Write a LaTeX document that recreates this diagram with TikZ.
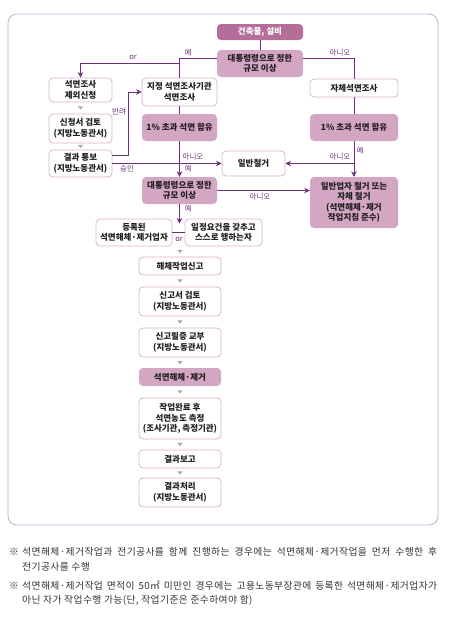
\documentclass[tikz,border=0pt]{standalone}
\usepackage{fontspec}
\newfontfamily\kr{Noto Sans CJK KR}
\newfontfamily\krn[LetterSpace=4]{Noto Sans CJK KR}
\usetikzlibrary{arrows.meta,calc}
\definecolor{boxB}{HTML}{DDB3CB}
\definecolor{mauve}{HTML}{D3A6C3}
\definecolor{dmauve}{HTML}{B46E9A}
\definecolor{arr}{HTML}{6E2D7D}
\definecolor{txt}{HTML}{231F20}
\definecolor{frameC}{HTML}{C9AAD6}
\definecolor{gtc}{HTML}{A8A8A8}
\definecolor{note}{HTML}{333333}
\tikzset{
  wbox/.style={draw=boxB, fill=white, rounded corners=4pt, line width=0.8pt, align=center,
    font=\kr\bfseries\fontsize{8.5}{10.5}\selectfont, text=txt, inner sep=0.5pt},
  mbox/.style={fill=mauve, draw=none, rounded corners=4pt, align=center,
    font=\kr\bfseries\fontsize{8.5}{10.5}\selectfont, text=txt, inner sep=0.5pt},
  tbox/.style={fill=dmauve, draw=none, rounded corners=4pt, align=center,
    font=\kr\bfseries\fontsize{8.5}{10.5}\selectfont, text=white, inner sep=0.5pt},
  conn/.style={draw=arr, line width=0.8pt},
  arrowhd/.style={-{Stealth[length=5.5pt,width=5.5pt]}},
  lbl/.style={text=arr, font=\kr\fontsize{7.5}{8}\selectfont, inner sep=0pt},
  notetxt/.style={text=note, font=\krn\fontsize{9.8}{11}\selectfont, inner sep=0pt, anchor=west},
}
\newcommand\gtri[1]{\fill[gtc] ($(#1)+(-2.6,-1.6)$) -- ++(5.2,0) -- ++(-2.6,3.2) -- cycle;}
\begin{document}
\begin{tikzpicture}[x=1pt,y=-1pt]
\useasboundingbox (0,0) rectangle (450,622);
% frame
\draw[frameC, line width=0.8pt, rounded corners=9pt] (8,14) rectangle (438,525);

% nodes
\node[tbox, minimum width=86pt, minimum height=16pt] (top) at (260,32) {건축물, 설비};
\node[mbox, minimum width=86pt, minimum height=27pt] (dec1) at (260,63.5) {대통령령으로 정한\\규모 이상};
\node[wbox, minimum width=63pt, minimum height=24pt] (exempt) at (80.5,90) {석면조사\\제외신청};
\node[wbox, minimum width=75pt, minimum height=28pt] (desig) at (179.5,92) {지정 석면조사기관\\석면조사};
\node[wbox, minimum width=88pt, minimum height=18pt] (self) at (354,88) {자체석면조사};
\node[wbox, minimum width=63pt, minimum height=29pt] (review) at (80.5,128.5) {신청서 검토\\(지방노동관서)};
\node[wbox, minimum width=63pt, minimum height=27pt] (result) at (80.5,163.5) {결과 통보\\(지방노동관서)};
\node[mbox, minimum width=75pt, minimum height=27pt] (pctL) at (179.5,127.5) {1\% 초과 석면 함유};
\node[mbox, minimum width=88pt, minimum height=27pt] (pctR) at (354,127.5) {1\% 초과 석면 함유};
\node[wbox, minimum width=63pt, minimum height=25pt] (general) at (253.5,163.5) {일반철거};
\node[mbox, minimum width=75pt, minimum height=27pt] (dec2) at (179.5,190.5) {대통령령으로 정한\\규모 이상};
\node[mbox, minimum width=88pt, minimum height=51pt] (genbiz) at (354,202.5) {일반업자 철거 또는\\자체 철거\\(석면해체·제거\\작업지침 준수)};
\node[wbox, minimum width=76pt, minimum height=27pt] (reg) at (134,232.5) {등록된\\석면해체·제거업자};
\node[wbox, minimum width=77pt, minimum height=27pt] (selfdo) at (223.5,232.5) {일정요건을 갖추고\\스스로 행하는자};
\node[wbox, minimum width=82pt, minimum height=18pt] (notify) at (180,266) {해체작업신고};
\node[wbox, minimum width=82pt, minimum height=29pt] (rev2) at (180,301.5) {신고서 검토\\(지방노동관서)};
\node[wbox, minimum width=82pt, minimum height=29pt] (cert) at (180,342.5) {신고필증 교부\\(지방노동관서)};
\node[mbox, minimum width=82pt, minimum height=18pt] (remove) at (180,377) {석면해체·제거};
\node[wbox, minimum width=82pt, minimum height=41pt] (measure) at (180,418.5) {작업완료 후\\석면농도 측정\\(조사기관, 측정기관)};
\node[wbox, minimum width=82pt, minimum height=18pt] (report) at (180,459) {결과보고};
\node[wbox, minimum width=82pt, minimum height=29pt] (process) at (180,492.5) {결과처리\\(지방노동관서)};

% coordinates
\coordinate (yesL) at (179.5,58);
\coordinate (orB) at (179.5,63);
\coordinate (noR) at (354,58);
\coordinate (rejC) at (128,155);
\coordinate (orEnd) at (179.5,223.5);

% connectors
\draw[conn] (top.south) -- (dec1.north);
\draw[conn] (dec1.west |- yesL) -- (yesL) -- (desig.north);
\draw[conn, arrowhd] (orB) -| (exempt.north);
\draw[conn] (dec1.east |- noR) -- (noR) -- (self.north);
\draw[conn] (desig.south) -- (pctL.north);
\draw[conn] (self.south) -- (pctR.north);
\draw[conn, arrowhd] (result.east |- rejC) -- (rejC) |- (desig.west);
\draw[conn, arrowhd] (result.east) -- (general.west);
\draw[conn, arrowhd] (pctL.south) -- (dec2.north);
\draw[conn, arrowhd] (pctR.south) -- (genbiz.north);
\draw[conn, arrowhd] (pctR.south |- general.east) -- (general.east);
\draw[conn, arrowhd] (dec2.east) -- (dec2.east -| genbiz.west);
\draw[conn, arrowhd] (dec2.south) -- (orEnd);
\draw[conn] (reg.east) -- (selfdo.west);

% labels
\node[lbl] at (188,53) {예};
\node[lbl] at (133,57) {or};
\node[lbl] at (340,53) {아니오};
\node[lbl] at (119,112) {반려};
\node[lbl] at (127,169) {승인};
\node[lbl] at (193,157) {아니오};
\node[lbl] at (188,169) {예};
\node[lbl] at (360,151) {예};
\node[lbl] at (340,157) {아니오};
\node[lbl] at (260,197) {아니오};
\node[lbl] at (188,209) {예};
\node[lbl] at (179,239.5) {or};

% gray step triangles
\gtri{$(exempt.south)!0.5!(review.north)$}
\gtri{$(review.south)!0.5!(result.north)$}
\gtri{$(reg.south -| notify.north)!0.5!(notify.north)$}
\gtri{$(notify.south)!0.5!(rev2.north)$}
\gtri{$(rev2.south)!0.5!(cert.north)$}
\gtri{$(cert.south)!0.5!(remove.north)$}
\gtri{$(remove.south)!0.5!(measure.north)$}
\gtri{$(measure.south)!0.5!(report.north)$}
\gtri{$(report.south)!0.5!(process.north)$}

% notes
\node[notetxt] (m1) at (9,552) {※};
\node[notetxt] (n1) at (22,552) {\makebox[415pt][s]{석면해체·제거작업과 전기공사를 함께 진행하는 경우에는 석면해체·제거작업을 먼저 수행한 후}};
\node[notetxt] (n2) at (22,567) {전기공사를 수행};
\node[notetxt] (m3) at (9,586) {※};
\node[notetxt] (n3) at (22,586) {\makebox[415pt][s]{석면해체·제거작업 면적이 50㎡ 미만인 경우에는 고용노동부장관에 등록한 석면해체·제거업자가}};
\node[notetxt] (n4) at (22,600) {아닌 자가 작업수행 가능(단, 작업기준은 준수하여야 함)};
\end{tikzpicture}
\end{document}
